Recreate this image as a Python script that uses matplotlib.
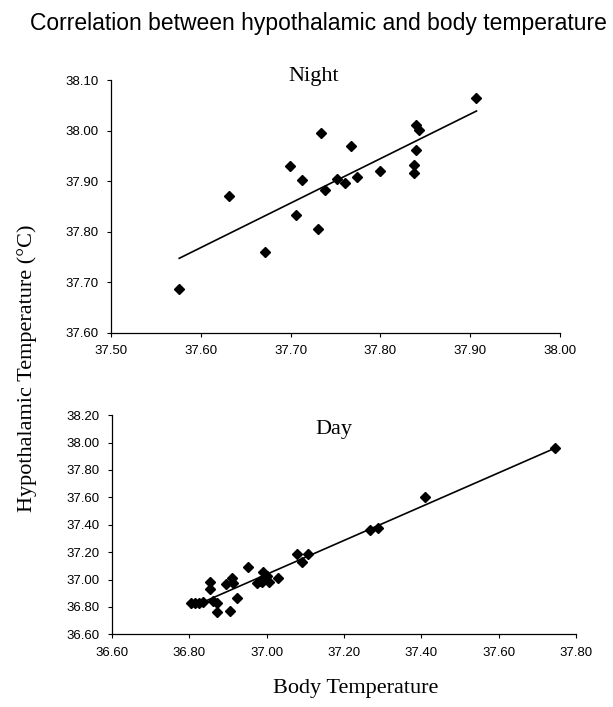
import numpy as np
import matplotlib
matplotlib.use("Agg")
import matplotlib.pyplot as plt
from matplotlib.ticker import FormatStrFormatter, MultipleLocator

# night: body temp vs hypothalamic temp
night_body = [37.576, 37.631, 37.671, 37.699, 37.706, 37.713, 37.731, 37.734,
              37.738, 37.752, 37.761, 37.767, 37.774, 37.800, 37.838, 37.838,
              37.840, 37.840, 37.843, 37.907]
night_hypo = [37.686, 37.870, 37.759, 37.929, 37.833, 37.902, 37.806, 37.996,
              37.882, 37.905, 37.897, 37.969, 37.909, 37.919, 37.931, 37.915,
              37.961, 38.012, 38.002, 38.064]

# day
day_body = [36.804, 36.815, 36.825, 36.836, 36.853, 36.853, 36.862, 36.871,
            36.871, 36.895, 36.905, 36.910, 36.914, 36.923, 36.951, 36.976,
            36.983, 36.987, 36.991, 37.000, 37.007, 37.028, 37.078, 37.091,
            37.108, 37.267, 37.289, 37.410, 37.746]
day_hypo = [36.831, 36.826, 36.830, 36.838, 36.980, 36.928, 36.845, 36.826,
            36.765, 36.965, 36.772, 37.013, 36.972, 36.867, 37.094, 36.972,
            36.990, 36.984, 37.057, 37.026, 36.980, 37.013, 37.186, 37.130,
            37.186, 37.361, 37.378, 37.600, 37.958]

SANS = "Liberation Sans"
SERIF = "Liberation Serif"

fig = plt.figure(figsize=(6.13, 7.07), dpi=100)
ax1 = fig.add_axes([0.181, 0.5297, 0.7325, 0.357])
ax2 = fig.add_axes([0.1827, 0.1028, 0.757, 0.310])


def panel(ax, x, y, xlim, ylim, step_x, step_y, label, lab_pos):
    x = np.array(x)
    y = np.array(y)
    k, b = np.polyfit(x, y, 1)
    xs = np.array([x.min(), x.max()])
    ax.plot(xs, k * xs + b, color="black", lw=1.2, zorder=2)
    ax.plot(x, y, "D", color="black", ms=5.3, zorder=3)
    ax.set_xlim(*xlim)
    ax.set_ylim(*ylim)
    ax.xaxis.set_major_locator(MultipleLocator(step_x))
    ax.yaxis.set_major_locator(MultipleLocator(step_y))
    ax.xaxis.set_major_formatter(FormatStrFormatter("%.2f"))
    ax.yaxis.set_major_formatter(FormatStrFormatter("%.2f"))
    for s in ("top", "right"):
        ax.spines[s].set_visible(False)
    for s in ("left", "bottom"):
        ax.spines[s].set_linewidth(0.9)
    ax.tick_params(direction="out", length=3, width=0.8, pad=6,
                   labelsize=9.5)
    for t in ax.get_xticklabels() + ax.get_yticklabels():
        t.set_fontfamily(SANS)
    ax.text(lab_pos[0], lab_pos[1], label, transform=ax.transAxes,
            ha="center", va="center", fontsize=16, family=SERIF)


panel(ax1, night_body, night_hypo, (37.50, 38.00), (37.60, 38.10), 0.1, 0.1,
      "Night", (0.452, 1.016))
panel(ax2, day_body, day_hypo, (36.60, 37.80), (36.60, 38.20), 0.2, 0.2,
      "Day", (0.478, 0.936))

fig.text(0.52, 0.967, "Correlation between hypothalamic and body temperature",
         ha="center", va="center", fontsize=16.5, family=SANS)
fig.text(0.044, 0.479, "Hypothalamic Temperature (°C)", rotation=90,
         ha="center", va="center", fontsize=16, family=SERIF)
fig.text(0.581, 0.026, "Body Temperature", ha="center", va="center",
         fontsize=16, family=SERIF)

fig.savefig("out.png", dpi=100)
